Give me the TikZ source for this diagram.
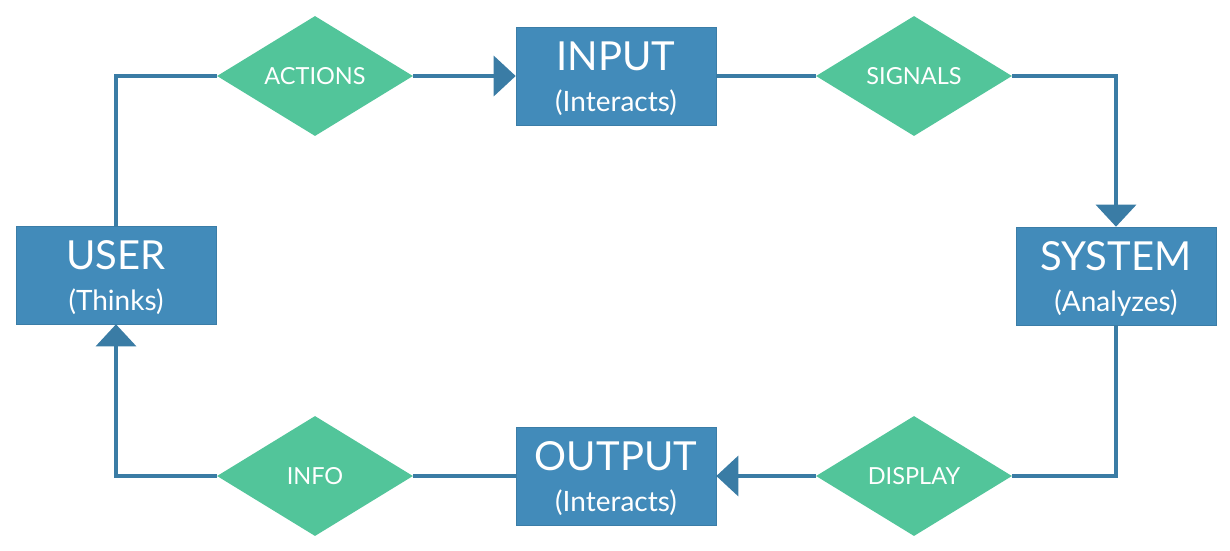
\documentclass[tikz,border=0pt]{standalone}
\usepackage{fontspec}
\setmainfont{Lato}
\usetikzlibrary{shapes.geometric,arrows.meta}
\definecolor{boxblue}{HTML}{428BBA}
\definecolor{lineblue}{HTML}{3A7CA5}
\definecolor{dgreen}{HTML}{52C59A}
\tikzset{bx/.style = {rectangle, fill=boxblue, draw=boxblue!90!black, line width=0.6pt, minimum width=200pt, minimum height=98pt, inner sep=0pt, text=white, align=center, font=\fontsize{28}{41}\selectfont},
         dm/.style = {diamond, fill=dgreen, draw=none, minimum width=196pt, minimum height=120pt, aspect=1.63, inner sep=0pt, text=white, font=\fontsize{23.5}{26}\selectfont},
         ln/.style = {draw=lineblue, line width=3.5pt}}
\newcommand{\bxtxt}[2]{\rule{0pt}{35pt}{\fontsize{40}{41}\selectfont #1}\\#2}

\begin{document}
\begin{tikzpicture}[x=1pt, y=-1pt, >={Triangle[length=22pt, width=40pt]}]
    \useasboundingbox (0,0) rectangle (1230,550);
    \node[bx] (user)   at (116,275)  {\bxtxt{USER}{(Thinks)}};
    \node[bx] (input)  at (616,76)   {\bxtxt{INPUT}{(Interacts)}};
    \node[bx] (system) at (1116,276) {\bxtxt{SYSTEM}{(Analyzes)}};
    \node[bx] (output) at (616,476)  {\bxtxt{OUTPUT}{(Interacts)}};
    \node[dm] (actions) at (315,76)  {ACTIONS};
    \node[dm] (signals) at (914,76)  {SIGNALS};
    \node[dm] (info)    at (315,476) {INFO};
    \node[dm] (display) at (914,476) {DISPLAY};
    \draw[ln]   (user.north) |- (actions.west);
    \draw[ln,->,lineblue] (actions.east) -- (input.west);
    \draw[ln]   (input.east) -- (signals.west);
    \draw[ln,->,lineblue] (signals.east) -| (system.north);
    \draw[ln]   (system.south) |- (display.east);
    \draw[ln,->,lineblue] (display.west) -- (output.east);
    \draw[ln]   (output.west) -- (info.east);
    \draw[ln,->,lineblue] (info.west) -| (user.south);
\end{tikzpicture}
\end{document}
